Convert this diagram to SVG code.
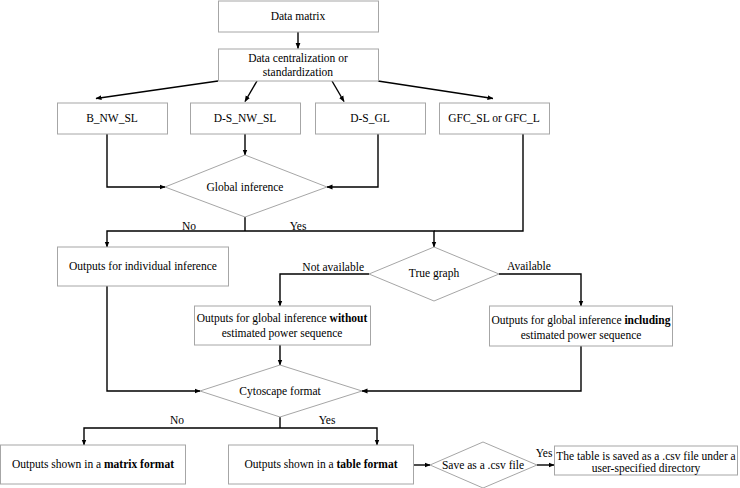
<svg xmlns="http://www.w3.org/2000/svg" width="740" height="488" viewBox="0 0 740 488">
<style>
.box{fill:#fff;stroke:#a6a6a6;stroke-width:1}
.dia{fill:#fff;stroke:#a6a6a6;stroke-width:1}
text{font-size:11.5px;fill:#000;text-anchor:middle}
.b{font-weight:bold}
.c{fill:none;stroke:#000;stroke-width:1.4}
.a{marker-end:url(#arr)}
</style>
<defs>
<marker id="arr" markerUnits="userSpaceOnUse" markerWidth="6" markerHeight="6" refX="5.5" refY="3" orient="auto">
<path d="M0,0.6 L6,3 L0,5.4 z" fill="#000"/>
</marker>
</defs>
<rect width="740" height="488" fill="#fff"/>
<g font-family="Liberation Serif, serif">
<g id="connectors">
<path class="c a" d="M298,32 V48.5"/>
<path class="c a" d="M218,81 L96,98.5"/>
<path class="c a" d="M257,81 L245,101.5"/>
<path class="c a" d="M332,81 L344,101.5"/>
<path class="c a" d="M378,81 L493,98.5"/>
<path class="c a" d="M107,134 V187 H165"/>
<path class="c a" d="M245,134 V155"/>
<path class="c a" d="M378,134 V187 H327"/>
<path class="c" d="M523,134 V231 H434"/>
<path class="c" d="M245,217 V231"/>
<path class="c a" d="M245,231 H107 V247"/>
<path class="c a" d="M245,231 H434 V247"/>
<path class="c a" d="M369,274 H280 V306"/>
<path class="c a" d="M499,274 H581 V306"/>
<path class="c a" d="M107,286 V391 H200"/>
<path class="c a" d="M280,345 V365"/>
<path class="c a" d="M581,346 V391 H362"/>
<path class="c" d="M280,417 V428"/>
<path class="c a" d="M280,428 H84 V445"/>
<path class="c a" d="M280,428 H377 V445"/>
<path class="c a" d="M413,465 H430"/>
<path class="c a" d="M537,465 H554"/>
<text x="189" y="230">No</text>
<text x="298" y="230">Yes</text>
<text x="364" y="271" style="text-anchor:end">Not available</text>
<text x="507" y="270" style="text-anchor:start">Available</text>
<text x="177" y="424">No</text>
<text x="327" y="424">Yes</text>
<text x="544" y="457">Yes</text>
</g>
<g id="data_matrix"><rect class="box" x="218.5" y="1" width="160" height="31"/><text x="298" y="20">Data matrix</text></g>
<g id="centralization"><rect class="box" x="218.5" y="49" width="160" height="32"/><text x="298" y="62">Data centralization or</text><text x="298" y="76">standardization</text></g>
<g id="b_nw_sl"><rect class="box" x="57.5" y="103" width="110" height="31"/><text x="112" y="122">B_NW_SL</text></g>
<g id="ds_nw_sl"><rect class="box" x="190.5" y="103" width="110" height="31"/><text x="245" y="122">D-S_NW_SL</text></g>
<g id="ds_gl"><rect class="box" x="315.5" y="103" width="110" height="31"/><text x="370" y="122">D-S_GL</text></g>
<g id="gfc"><rect class="box" x="439.5" y="103" width="110" height="31"/><text x="494" y="122">GFC_SL or GFC_L</text></g>
<g id="global_inference"><polygon class="dia" points="245,155 327,187 245,217 165,187"/><text x="245" y="191">Global inference</text></g>
<g id="individual"><rect class="box" x="57.5" y="247" width="171" height="39"/><text x="143" y="270">Outputs for individual inference</text></g>
<g id="true_graph"><polygon class="dia" points="434,247 499,274 434,301 369,274"/><text x="434" y="277">True graph</text></g>
<g id="without"><rect class="box" x="194.5" y="306" width="176" height="39"/><text x="282" y="322">Outputs for global inference <tspan class="b">without</tspan></text><text x="282" y="337">estimated power sequence</text></g>
<g id="including"><rect class="box" x="489.5" y="306" width="183" height="40"/><text x="581" y="324">Outputs for global inference <tspan class="b">including</tspan></text><text x="581" y="339">estimated power sequence</text></g>
<g id="cytoscape"><polygon class="dia" points="280,365 362,391 280,417 200,391"/><text x="280" y="395">Cytoscape format</text></g>
<g id="matrix"><rect class="box" x="0.5" y="445" width="185" height="39"/><text x="93" y="468">Outputs shown in a <tspan class="b">matrix format</tspan></text></g>
<g id="table"><rect class="box" x="228.5" y="445" width="185" height="39"/><text x="321" y="468">Outputs shown in a <tspan class="b">table format</tspan></text></g>
<g id="save"><polygon class="dia" points="483,442 537,465 483,488 430,465"/><text x="483" y="469">Save as a .csv file</text></g>
<g id="saved"><rect class="box" x="554.5" y="446" width="183" height="29"/><text x="646" y="460">The table is saved as a .csv file under a</text><text x="646" y="472">user-specified directory</text></g>
</g>
</svg>
